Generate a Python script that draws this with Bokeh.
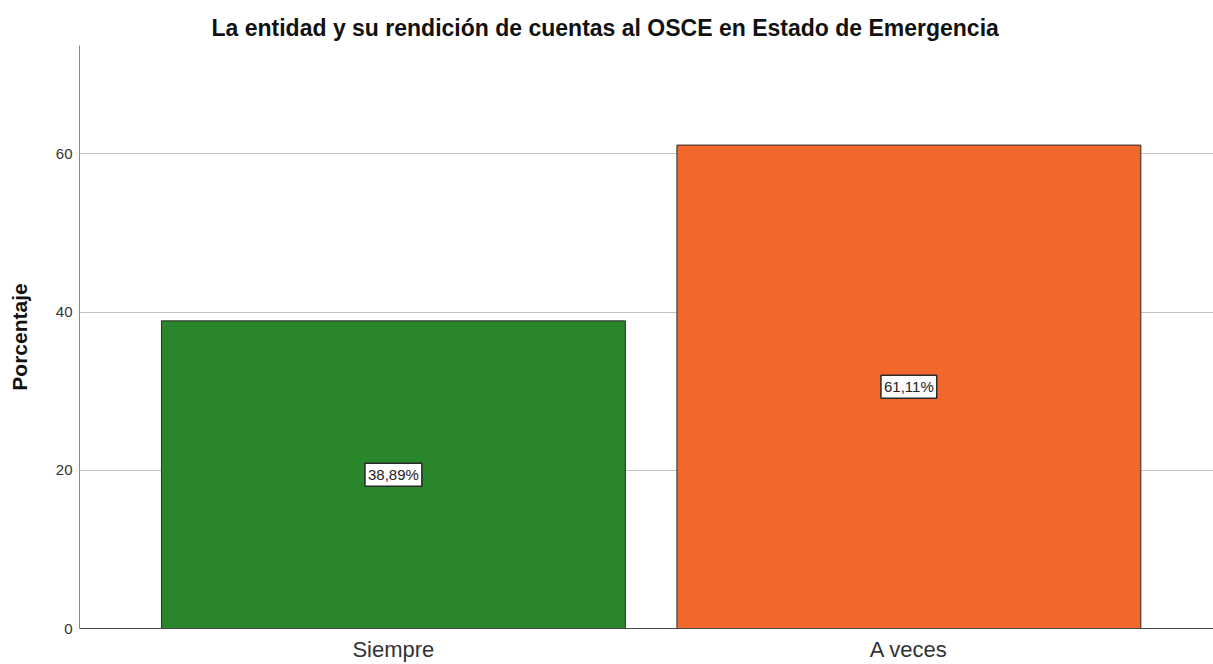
from bokeh.plotting import figure
from bokeh.models import Label, FixedTicker, Range1d, Title
from bokeh.embed import file_html
from bokeh.resources import INLINE

categories = ["Siempre", "A veces"]
values = [38.89, 61.11]
labels = ["38,89%", "61,11%"]
colors = ["#2a862a", "#f2682c"]
y_ticks = [0, 20, 40, 60]
title_text = "La entidad y su rendición de cuentas al OSCE en Estado de Emergencia"

xs = [1, 2]

p = figure(width=1213, height=664, output_backend="svg", toolbar_location=None,
           x_range=Range1d(0.391, 2.591), y_range=Range1d(0, 73.7),
           min_border_left=79, min_border_right=0, min_border_top=45,
           min_border_bottom=35)

p.title = Title(text=title_text, align="left", offset=132,
                text_font="Liberation Sans", text_font_size="23px",
                text_font_style="bold", text_color="#111111")

p.vbar(x=xs, top=values, width=0.9, bottom=0, fill_color=colors,
       line_color="#2b2b2b", line_width=1)

for x, v, t in zip(xs, values, labels):
    p.add_layout(Label(x=x, y=v / 2, text=t, text_align="center",
                       text_baseline="middle", text_font="Liberation Sans",
                       text_font_size="15px", text_color="#222222",
                       background_fill_color="white",
                       border_line_color="#2a2a2a", border_line_width=1.5,
                       padding=3))

p.outline_line_color = None
p.xgrid.grid_line_color = None
p.ygrid.grid_line_color = "#c4c4c4"
p.ygrid.ticker = FixedTicker(ticks=y_ticks)
p.ygrid.level = "underlay"

p.yaxis.ticker = FixedTicker(ticks=y_ticks)
p.yaxis.axis_label = "Porcentaje"
p.yaxis.axis_label_text_font = "Liberation Sans"
p.yaxis.axis_label_text_font_size = "21px"
p.yaxis.axis_label_text_font_style = "bold"
p.yaxis.axis_label_text_color = "#111111"
p.yaxis.major_label_text_font = "Liberation Sans"
p.yaxis.major_label_text_font_size = "15px"
p.yaxis.major_label_text_color = "#333333"
p.yaxis.major_tick_line_color = None
p.yaxis.major_tick_out = 0
p.yaxis.major_tick_in = 0
p.yaxis.minor_tick_line_color = None
p.yaxis.axis_line_color = "#8a8a8a"
p.yaxis.major_label_standoff = 7
p.yaxis.axis_label_standoff = 22

p.xaxis.ticker = FixedTicker(ticks=xs)
p.xaxis.major_label_overrides = {x: c for x, c in zip(xs, categories)}
p.xaxis.major_label_text_font = "Liberation Sans"
p.xaxis.major_label_text_font_size = "22px"
p.xaxis.major_label_text_color = "#333333"
p.xaxis.major_tick_line_color = None
p.xaxis.major_tick_out = 0
p.xaxis.major_tick_in = 0
p.xaxis.minor_tick_line_color = None
p.xaxis.axis_line_color = "#444444"
p.xaxis.major_label_standoff = 8

open("out.html", "w").write(file_html(p, INLINE))
